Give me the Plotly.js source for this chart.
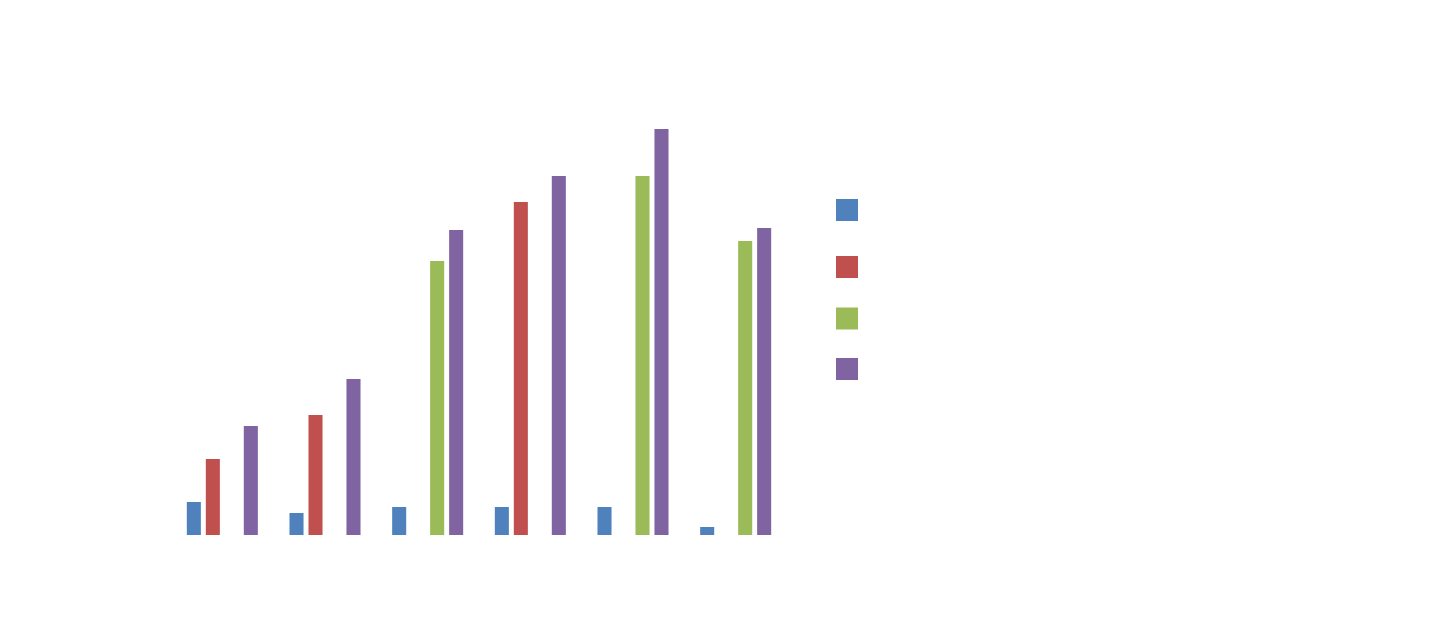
<!DOCTYPE html>
<html>
<head>
<meta charset="utf-8">
<script src="https://cdn.plot.ly/plotly-3.0.1.min.js"></script>
<style>
  html, body { margin: 0; padding: 0; background: #fff; }
  #chart { width: 1449px; height: 632px; }
</style>
</head>
<body>
<div id="chart"></div>
<script>
var categories = ["1", "2", "3", "4", "5", "6"];
var series1 = [33, 22, 28, 28, 28, 8];
var series2 = [76, 120, null, 333, null, null];
var series3 = [null, null, 274, null, 359, 294];
var series4 = [109, 156, 305, 359, 406, 307];

var names = ["Series 1", "Series 2", "Series 3", "Series 4"];
var colors = ["#4F81BD", "#C0504D", "#9BBB59", "#8064A2"];
var values = [series1, series2, series3, series4];

function plot_bars() {
    'use strict';

    var data = values.map(function (v, i) {
        return {
            type: "bar",
            name: names[i],
            x: categories,
            y: v,
            marker: {color: colors[i], line: {width: 0}},
            hoverinfo: "skip"
        };
    });

    // legend swatches, no labels in the reference
    var swatchTop = [199, 256, 307.5, 358];
    var shapes = swatchTop.map(function (t, i) {
        return {
            type: "rect",
            xref: "paper", yref: "paper",
            x0: (836 - 171) / 616, x1: (858 - 171) / 616,
            y0: (535 - t) / 450, y1: (535 - t - 22) / 450,
            fillcolor: colors[i],
            line: {width: 0}
        };
    });

    var layout = {
        width: 1449,
        height: 632,
        margin: {l: 171, r: 662, t: 85, b: 97, pad: 0},
        paper_bgcolor: "#fff",
        plot_bgcolor: "#fff",
        barmode: "group",
        bargap: 0.26,
        bargroupgap: 0.26,
        showlegend: false,
        xaxis: {
            type: "category",
            range: [-0.5, 5.5],
            showticklabels: false,
            showgrid: false,
            zeroline: false,
            showline: false,
            ticks: ""
        },
        yaxis: {
            range: [0, 450],
            showticklabels: false,
            showgrid: false,
            zeroline: false,
            showline: false,
            ticks: ""
        },
        shapes: shapes
    };

    Plotly.newPlot('chart', data, layout, {displayModeBar: false, staticPlot: true});
}

plot_bars();
</script>
</body>
</html>
